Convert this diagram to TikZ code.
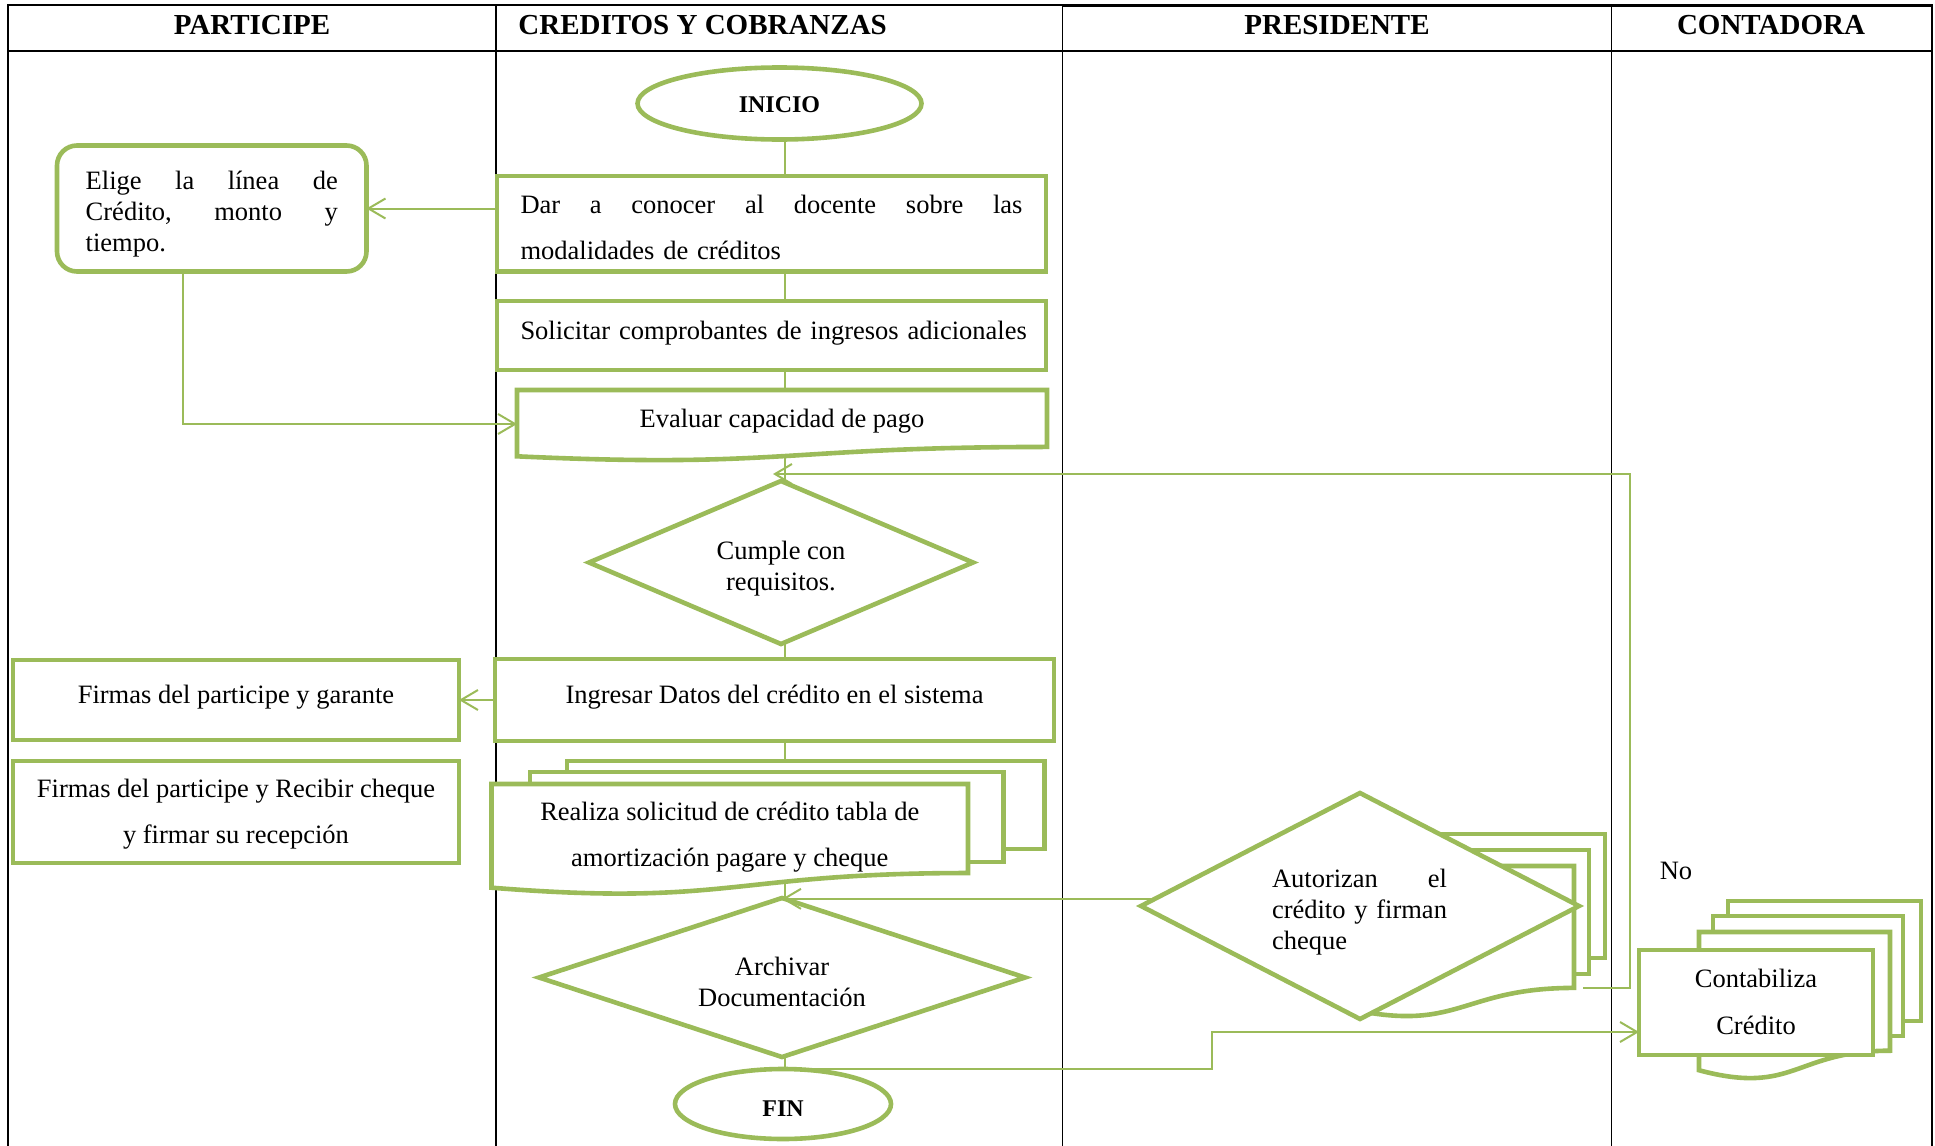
\documentclass[tikz,border=0pt]{standalone}
\usepackage{fontspec}
\setmainfont{Liberation Serif}
\usetikzlibrary{shapes.geometric,arrows.meta,calc}
\definecolor{leaf}{RGB}{155,187,89}
\pgfdeclarelayer{table}
\pgfdeclarelayer{sheets}
\pgfsetlayers{table,sheets,main}

\newcommand\txtfont{\fontsize{13.25}{15.5}\selectfont}
\newcommand\widefont{\fontsize{13.25}{23}\selectfont}
% a line whose words are spread over the given width
\newcommand\spreadline[2]{\leavevmode\hbox to #1{#2}}

% document outline (wavy bottom) drawn around a placeholder node
% #1 node name, #2 full height of the sheet
\newcommand\docshape[2]{%
  \draw[shapeline,fill=white] (#1.north west) -- (#1.north east)
    -- ($(#1.north east)+(0,0.802*#2)$)
    .. controls ($(#1.north)+(0,0.802*#2)$) and ($(#1.north)+(0,1.107*#2)$)
    .. ($(#1.north west)+(0,0.934*#2)$) -- cycle;}

\tikzset{
  shapeline/.style={draw=leaf, line width=2.3pt, line join=miter},
  box/.style={shapeline, rectangle, fill=white, inner sep=0pt, outer sep=0pt},
  holder/.style={rectangle, inner sep=0pt, outer sep=0pt},
  decision/.style={shapeline, diamond, fill=white, inner sep=0pt, outer sep=0pt},
  terminal/.style={shapeline, ellipse, fill=white, inner sep=0pt, outer sep=0pt},
  txt/.style={inner sep=0pt, font=\txtfont},
  wtxt/.style={inner sep=0pt, font=\widefont},
  bold/.style={inner sep=0pt, font=\fontsize{12}{14}\selectfont\bfseries},
  link/.style={draw=leaf, line width=1pt},
  flow/.style={link, -{Straight Barb[length=8.5pt,width=10pt]}},
  rule/.style={draw=black, line width=0.9pt},
  head/.style={font=\fontsize{14.5}{16}\selectfont\bfseries, inner sep=0pt},
}

\begin{document}
\begin{tikzpicture}[x=0.5pt,y=-0.5pt]
\useasboundingbox (0,0) rectangle (1935,1146);

% swimlane table
\begin{pgfonlayer}{table}
  \draw[rule] (8,1146) -- (8,5) -- (1932,5) -- (1932,1146);
  \draw[black, line width=1.5pt] (1062.5,5) -- (1932,5);
  \draw[rule] (8,51) -- (1932,51);
  \draw[rule] (496,5) -- (496,1146);
  \draw[rule] (1062.5,5) -- (1062.5,1146);
  \draw[rule] (1611.5,5) -- (1611.5,1146);
\end{pgfonlayer}

% lane titles
\node[head] (hpart) at (252,25) {PARTICIPE};
\node[head, anchor=west] (hcred) at (518,25) {CREDITOS Y COBRANZAS};
\node[head] (hpres) at (1337,25) {PRESIDENTE};
\node[head] (hcont) at (1771,25) {CONTADORA};

% process shapes
\node[terminal, minimum width=142pt, minimum height=36pt] (inicio) at (779.5,103.5) {};
\node[box, minimum width=274.5pt, minimum height=47.75pt] (dar) at (771.5,223.75) {};
\node[box, rounded corners=10pt, minimum width=154.75pt, minimum height=63pt] (elige) at (211.75,208.5) {};
\node[box, minimum width=274.5pt, minimum height=34.5pt] (solic) at (771.5,335.5) {};
\node[holder, minimum width=265pt, minimum height=29pt] (eval) at (782,419) {};
\node[decision, minimum width=192pt, minimum height=81.5pt] (cumple) at (781,562.5) {};
\node[box, minimum width=279.5pt, minimum height=41pt] (ingresar) at (774.5,700) {};
\node[box, minimum width=223pt, minimum height=40pt] (firmas1) at (236,700) {};
\node[box, minimum width=223pt, minimum height=51pt] (firmas2) at (236,812) {};
\node[holder, minimum width=238.25pt, minimum height=51pt] (realiza) at (729.75,835) {};
\node[decision, minimum width=243pt, minimum height=79.5pt] (arch) at (782,977.5) {};
\node[terminal, minimum width=108pt, minimum height=35pt] (fin) at (783,1104) {};
\node[holder, minimum width=114.5pt, minimum height=61pt] (autdoc) at (1459.5,927) {};
\node[decision, minimum width=219pt, minimum height=113pt] (aut) at (1360,906) {};
\node[holder, minimum width=95.5pt, minimum height=59.5pt] (contdoc) at (1794.5,991.5) {};
\node[box, minimum width=117pt, minimum height=52.5pt] (contab) at (1756,1002.5) {};

% stacked sheets and document outlines
\begin{pgfonlayer}{sheets}
  \docshape{eval}{71}
  \node[box, minimum width=238.75pt, minimum height=44pt] (realiza3) at (805.75,805) {};
  \node[box, minimum width=236.75pt, minimum height=45pt] (realiza2) at (766.75,817) {};
  \docshape{realiza}{111}
  \node[box, minimum width=114.5pt, minimum height=62pt] (aut3) at (1490.5,896) {};
  \node[box, minimum width=114.5pt, minimum height=62pt] (aut2) at (1474.5,912) {};
  \docshape{autdoc}{152}
  \node[box, minimum width=96.5pt, minimum height=60pt] (contab3) at (1824.5,961) {};
  \node[box, minimum width=95pt, minimum height=60pt] (contab2) at (1808,976) {};
  \docshape{contdoc}{148}
\end{pgfonlayer}

% texts of the shapes
\node[bold] (inicio-t) at ($(inicio)+(0,1)$) {INICIO};
\node[wtxt, text width=251pt, align=left] (dar-t) at ($(dar)+(0,4)$)
  {\spreadline{251pt}{Dar\hfill a\hfill conocer\hfill al\hfill docente\hfill sobre\hfill las}\\modalidades de créditos};
\node[txt, text width=126pt, align=left] (elige-t) at ($(elige)+(0,6)$)
  {\spreadline{126pt}{Elige\hfill la\hfill línea\hfill de}\\\spreadline{126pt}{Crédito,\hfill monto\hfill y}\\tiempo.};
\node[txt, text width=251pt, align=left] (solic-t) at ($(solic)+(0,-2.5)$)
  {\mbox{Solicitar comprobantes de ingresos adicionales}};
\node[txt] (eval-t) at ($(eval)+(0,2.5)$) {Evaluar capacidad de pago};
\node[txt, align=center] (cumple-t) at ($(cumple)+(0,6)$) {Cumple con\\requisitos.};
\node[txt] (ingresar-t) at ($(ingresar)+(0,-2.5)$) {Ingresar Datos del crédito en el sistema};
\node[txt] (firmas1-t) at ($(firmas1)+(0,-2.5)$) {Firmas del participe y garante};
\node[wtxt, align=center] (firmas2-t) at ($(firmas2)+(0,2.5)$)
  {Firmas del participe y Recibir cheque\\y firmar su recepción};
\node[wtxt, align=center] (realiza-t) at ($(realiza)+(0,2.5)$)
  {Realiza solicitud de crédito tabla de\\amortización pagare y cheque};
\node[txt, align=center] (arch-t) at ($(arch)+(0,4)$) {Archivar\\Documentación};
\node[bold] (fin-t) at ($(fin)+(0,5)$) {FIN};
\node[txt, text width=88pt, align=left] (aut-t) at ($(aut)+(0,6)$)
  {\spreadline{87.5pt}{Autorizan\hfill el}\\\spreadline{87.5pt}{crédito\hfill y\hfill firman}\\cheque};
\node[inner sep=0pt, font=\fontsize{13.25}{23.5}\selectfont, align=center] (contab-t)
  at ($(contab)+(0,-1)$) {Contabiliza\\Crédito};
\node[txt] (no) at (1676,871) {No};

% connectors
\coordinate (spine) at (785,0);
\coordinate (evalfoot) at ($(eval.north)+(0,66)$);
\coordinate (realizafoot) at ($(realiza.north)+(0,98)$);
\coordinate (autfoot) at ($(autdoc.north east)+(9,122)$);
\coordinate (back) at (773,474);
\coordinate (elbow) at (1212,1032);

\draw[link] (inicio.south -| spine) -- (dar.north -| spine);
\draw[flow] (dar.west |- elige.east) -- (elige.east);
\draw[link] (dar.south -| spine) -- (solic.north -| spine);
\draw[link] (solic.south -| spine) -- (eval.north -| spine);
\draw[flow] ($(elige.south)+(-29,0)$) |- ($(eval.west)+(0,5)$);
\draw[link] (evalfoot -| spine) -- (cumple.north -| spine);
\draw[flow] (autfoot) -- ++(47,0) |- (back);
\draw[link] (cumple.south -| spine) -- (ingresar.north -| spine);
\draw[flow] (ingresar.west) -- (firmas1.east);
\draw[link] (ingresar.south -| spine) -- (realiza3.north -| spine);
\draw[link] (realizafoot -| spine) -- (arch.north -| spine);
\draw[flow] (aut.178) -- (aut.178 -| arch.north);
\draw[link] (arch.south -| spine) -- (fin.north -| spine);
\draw[flow] (fin.north -| spine) -| (elbow) -- (elbow -| contab.west);

\end{tikzpicture}
\end{document}
